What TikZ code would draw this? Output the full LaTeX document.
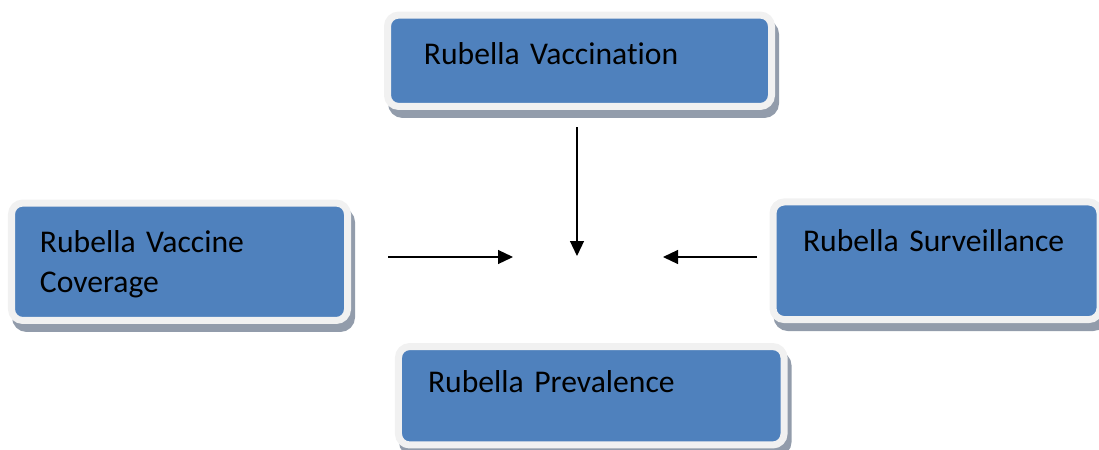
\documentclass[tikz,border=0pt]{standalone}
\usepackage{fontspec}
\setmainfont[Ligatures=NoCommon]{Carlito}
\usetikzlibrary{arrows.meta, backgrounds}
\definecolor{rubblue}{RGB}{79,129,189}
\definecolor{rubrim}{RGB}{241,241,241}
\definecolor{rubshade}{RGB}{146,156,171}

\tikzset{
  rubbox/.style={rectangle, rounded corners=0.28cm, fill=rubblue, draw=rubrim, line width=0.175cm,
    outer sep=0pt, inner ysep=0pt, align=left, font=\fontsize{22.5}{28.5}\selectfont},
  rubshadow/.style={rounded corners=0.28cm, fill=rubshade, draw=rubshade, line width=0.175cm},
  rubarrow/.style={-{Triangle[length=0.375cm,width=0.35cm]}, line width=0.85pt}
}

\begin{document}
\begin{tikzpicture}
    \useasboundingbox (0,0) rectangle (27.475,-11.225);

    \node at (14.4875,-1.519) [rubbox, inner xsep=0.91cm, text width=7.78cm, text height=1.225cm, text depth=1.06cm] (vaccination) {Rubella Vaccination};
    \node at (4.4875,-6.544) [rubbox, inner xsep=0.71cm, text width=6.98cm, text height=1.225cm, text depth=1.71cm] (coverage) {Rubella Vaccine\\Coverage};
    \node at (23.4125,-6.519) [rubbox, inner xsep=0.75cm, text width=6.675cm, text height=1.25cm, text depth=1.69cm] (surveillance) {Rubella Surveillance};
    \node at (14.781,-9.894) [rubbox, inner xsep=0.74cm, text width=8.16cm, text height=1.16cm, text depth=1.3cm] (prevalence) {Rubella Prevalence};

    % shadows behind the boxes
    \begin{scope}[on background layer]
        \foreach \b in {vaccination, coverage, surveillance, prevalence}
            \draw[rubshadow] ([shift={(0.1,-0.2)}]\b.south west) rectangle ([shift={(0.1,-0.2)}]\b.north east);
    \end{scope}

    \coordinate (vacc_end) at (14.425,-3.175);
    \coordinate (vacc_tip) at (14.425,-6.4);
    \coordinate (cov_end) at (9.7,-6.425);
    \coordinate (cov_tip) at (12.825,-6.425);
    \coordinate (surv_end) at (18.925,-6.425);
    \coordinate (surv_tip) at (16.575,-6.425);

    \draw[rubarrow] (vacc_end) -- (vacc_tip);
    \draw[rubarrow] (cov_end) -- (cov_tip);
    \draw[rubarrow] (surv_end) -- (surv_tip);
\end{tikzpicture}
\end{document}
